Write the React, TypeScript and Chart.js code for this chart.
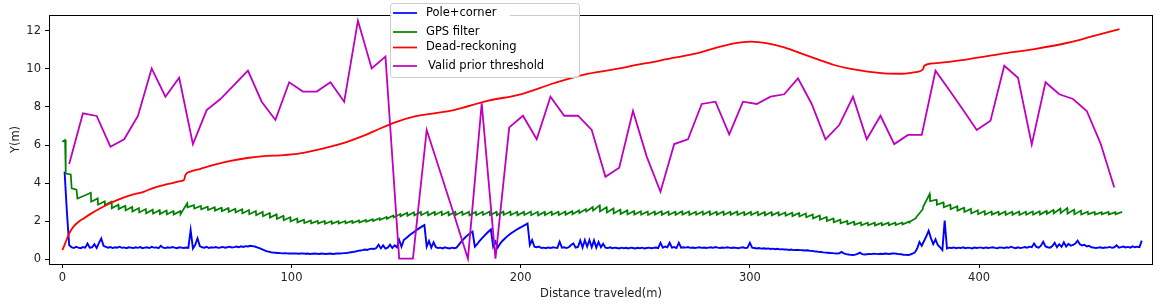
import React, { useEffect, useRef } from "react";
import { Chart, registerables } from "chart.js";

Chart.register(...registerables);

const FONT = "'DejaVu Sans', 'Liberation Sans', sans-serif";

const seriesNames = ["Pole+corner", "GPS filter", "Dead-reckoning", "Valid prior threshold"];
const seriesColors = ["#0000ff", "#008000", "#ff0000", "#bf00bf"];
const seriesWidths = [1.9, 1.7, 1.8, 1.8];

const xTicks = [0, 100, 200, 300, 400];
const yTicks = [0, 2, 4, 6, 8, 10, 12];
const xLabel = "Distance traveled(m)";
const yLabel = "Y(m)";
const xRange = [-5.8, 475.9];
const yRange = [-0.26, 12.84];

// Pole+corner: one sample per metre, first sample at x = poleStart
const poleStart = 1;
const poleCorner = [
  4.60, 2.50, 0.74, 0.62, 0.58, 0.64, 0.60, 0.57, 0.63, 0.60,
  0.82, 0.60, 0.62, 0.78, 0.58, 0.85, 1.08, 0.70, 0.64, 0.60,
  0.63, 0.58, 0.62, 0.60, 0.65, 0.59, 0.61, 0.57, 0.62, 0.60,
  0.58, 0.62, 0.59, 0.63, 0.57, 0.60, 0.62, 0.58, 0.64, 0.60,
  0.61, 0.57, 0.70, 0.60, 0.58, 0.62, 0.59, 0.63, 0.60, 0.57,
  0.62, 0.60, 0.58, 0.61, 0.59, 1.53, 0.56, 0.75, 1.09, 0.68,
  0.62, 0.60, 0.64, 0.58, 0.62, 0.60, 0.63, 0.59, 0.61, 0.64,
  0.60, 0.62, 0.65, 0.61, 0.63, 0.66, 0.62, 0.67, 0.64, 0.68,
  0.66, 0.70, 0.68, 0.66, 0.62, 0.57, 0.52, 0.47, 0.42, 0.39,
  0.36, 0.34, 0.33, 0.32, 0.31, 0.30, 0.31, 0.30, 0.29, 0.30,
  0.29, 0.30, 0.28, 0.29, 0.30, 0.28, 0.29, 0.27, 0.28, 0.29,
  0.28, 0.27, 0.29, 0.28, 0.27, 0.28, 0.29, 0.27, 0.28, 0.29,
  0.29, 0.30, 0.31, 0.32, 0.34, 0.36, 0.38, 0.40, 0.43, 0.45,
  0.47, 0.50, 0.48, 0.52, 0.55, 0.53, 0.58, 0.75, 0.56, 0.72,
  0.55, 0.60, 0.76, 0.58, 0.72, 0.62, 1.00, 0.65, 1.00, 1.10,
  1.20, 1.30, 1.39, 1.48, 1.56, 1.64, 1.72, 1.79, 0.65, 0.95,
  0.60, 0.88, 0.62, 0.58, 0.60, 0.56, 0.62, 0.58, 0.56, 0.60,
  0.57, 0.60, 0.75, 0.90, 1.04, 1.16, 1.27, 1.36, 1.44, 0.65,
  0.78, 0.94, 1.08, 1.21, 1.33, 1.45, 1.56, 0.65, 0.91, 0.60,
  0.80, 0.95, 1.07, 1.18, 1.28, 1.37, 1.45, 1.53, 1.60, 1.67,
  1.73, 1.80, 1.87, 0.74, 1.00, 0.65, 0.62, 0.66, 0.58, 0.60,
  0.57, 0.61, 0.58, 0.62, 0.60, 0.58, 0.91, 0.60, 0.62, 0.58,
  0.62, 0.74, 0.82, 0.60, 0.64, 0.98, 0.60, 1.00, 0.65, 1.00,
  0.62, 0.98, 0.60, 0.90, 0.62, 0.80, 0.60, 0.58, 0.62, 0.57,
  0.60, 0.58, 0.56, 0.60, 0.57, 0.59, 0.56, 0.60, 0.58, 0.56,
  0.59, 0.57, 0.60, 0.56, 0.58, 0.60, 0.57, 0.59, 0.61, 0.58,
  0.86, 0.60, 0.66, 0.62, 0.86, 0.60, 0.63, 0.58, 0.86, 0.60,
  0.62, 0.60, 0.63, 0.59, 0.61, 0.58, 0.60, 0.62, 0.59, 0.61,
  0.58, 0.60, 0.62, 0.59, 0.63, 0.60, 0.58, 0.61, 0.59, 0.62,
  0.60, 0.58, 0.61, 0.59, 0.57, 0.60, 0.62, 0.58, 0.60, 0.86,
  0.60, 0.58, 0.56, 0.58, 0.55, 0.57, 0.54, 0.56, 0.53, 0.55,
  0.52, 0.54, 0.51, 0.52, 0.50, 0.51, 0.48, 0.50, 0.47, 0.48,
  0.48, 0.47, 0.46, 0.45, 0.46, 0.44, 0.43, 0.41, 0.40, 0.38,
  0.37, 0.35, 0.34, 0.33, 0.32, 0.31, 0.30, 0.29, 0.30, 0.38,
  0.30, 0.26, 0.24, 0.22, 0.21, 0.23, 0.27, 0.34, 0.26, 0.24,
  0.25, 0.27, 0.26, 0.28, 0.27, 0.26, 0.28, 0.27, 0.29, 0.28,
  0.27, 0.29, 0.30, 0.28, 0.26, 0.25, 0.23, 0.22, 0.21, 0.24,
  0.28, 0.35, 0.55, 0.90, 0.70, 0.95, 1.20, 1.49, 1.10, 0.79,
  1.04, 0.74, 0.62, 0.47, 2.02, 0.56, 0.60, 0.58, 0.61, 0.57,
  0.60, 0.58, 0.62, 0.57, 0.60, 0.59, 0.56, 0.61, 0.58, 0.60,
  0.60, 0.57, 0.61, 0.58, 0.60, 0.62, 0.59, 0.57, 0.61, 0.60,
  0.58, 0.62, 0.59, 0.65, 0.60, 0.57, 0.62, 0.58, 0.60, 0.63,
  0.60, 0.65, 0.62, 0.82, 0.64, 0.60, 0.70, 0.91, 0.66, 0.62,
  0.60, 0.68, 0.85, 0.62, 0.78, 0.64, 0.88, 0.66, 0.80, 0.70,
  0.74, 0.82, 0.97, 0.78, 0.72, 0.75, 0.66, 0.70, 0.62, 0.60,
  0.58, 0.60, 0.62, 0.58, 0.61, 0.60, 0.64, 0.59, 0.62, 0.72,
  0.60, 0.63, 0.66, 0.61, 0.64, 0.60, 0.67, 0.62, 0.65, 0.63, 0.97,
];

// GPS filter: initial steps, then saw teeth (low, high) each gpsToothLen long
const gpsHeadX = [0, 1.2, 1.5, 3.7, 4.1, 6.2];
const gpsHeadY = [6.17, 6.26, 4.5, 4.45, 3.72, 3.65];
const gpsToothStart = 6.6;
const gpsToothLen = 3;
const gpsTeeth = [
  3.19, 3.33, 3.33, 3.49, 3.02, 3.19, 2.86, 3.04, 2.84, 3.02,
  2.67, 2.86, 2.63, 2.80, 2.56, 2.74, 2.50, 2.68, 2.45, 2.63,
  2.41, 2.60, 2.39, 2.57, 2.37, 2.55, 2.35, 2.53, 2.34, 2.52,
  2.36, 2.93, 2.72, 2.84, 2.66, 2.79, 2.62, 2.76, 2.58, 2.73,
  2.55, 2.70, 2.52, 2.68, 2.48, 2.65, 2.45, 2.62, 2.40, 2.58,
  2.36, 2.53, 2.31, 2.48, 2.25, 2.42, 2.18, 2.35, 2.11, 2.27,
  2.04, 2.20, 1.98, 2.13, 1.93, 2.07, 1.90, 2.03, 1.88, 2.01,
  1.87, 2.00, 1.86, 1.99, 1.86, 1.99, 1.87, 2.00, 1.88, 2.01,
  1.90, 2.03, 1.92, 2.06, 1.96, 2.10, 2.00, 2.15, 2.06, 2.22,
  2.12, 2.29, 2.19, 2.37, 2.25, 2.43, 2.28, 2.46, 2.30, 2.48,
  2.31, 2.49, 2.30, 2.48, 2.32, 2.50, 2.31, 2.49, 2.30, 2.48,
  2.31, 2.50, 2.32, 2.49, 2.30, 2.48, 2.31, 2.49, 2.32, 2.50,
  2.31, 2.48, 2.30, 2.49, 2.32, 2.50, 2.31, 2.49, 2.30, 2.48,
  2.32, 2.50, 2.31, 2.49, 2.30, 2.48, 2.31, 2.50, 2.32, 2.49,
  2.31, 2.50, 2.33, 2.52, 2.36, 2.56, 2.42, 2.63, 2.50, 2.74,
  2.55, 2.82, 2.50, 2.72, 2.45, 2.66, 2.40, 2.60, 2.37, 2.56,
  2.35, 2.53, 2.34, 2.51, 2.33, 2.50, 2.32, 2.50, 2.34, 2.51,
  2.33, 2.50, 2.32, 2.49, 2.33, 2.51, 2.34, 2.50, 2.32, 2.49,
  2.33, 2.50, 2.34, 2.51, 2.32, 2.49, 2.33, 2.50, 2.32, 2.49,
  2.33, 2.50, 2.32, 2.48, 2.31, 2.48, 2.32, 2.49, 2.31, 2.47,
  2.30, 2.47, 2.30, 2.46, 2.29, 2.45, 2.28, 2.44, 2.26, 2.42,
  2.24, 2.40, 2.20, 2.35, 2.14, 2.29, 2.07, 2.21, 2.00, 2.14,
  1.94, 2.07, 1.88, 2.01, 1.83, 1.96, 1.80, 1.93, 1.78, 1.91,
  1.78, 1.91, 1.77, 1.90, 1.78, 1.91, 1.78, 1.91, 1.79, 1.92,
  1.82, 1.97, 1.95, 2.15, 2.20, 2.62, 2.75, 3.42, 3.05, 3.12,
  2.85, 2.98, 2.72, 2.86, 2.62, 2.78, 2.55, 2.70, 2.48, 2.64,
  2.40, 2.57, 2.36, 2.53, 2.33, 2.50, 2.34, 2.49, 2.33, 2.50,
  2.32, 2.49, 2.33, 2.50, 2.32, 2.49, 2.33, 2.50, 2.34, 2.51,
  2.34, 2.53, 2.37, 2.58, 2.40, 2.65, 2.42, 2.68, 2.38, 2.60,
  2.35, 2.55, 2.34, 2.49, 2.35, 2.48, 2.34, 2.47, 2.35, 2.48,
  2.34, 2.47, 2.35, 2.48,
];

// Dead-reckoning
const deadX = [
  0, 1, 2, 3, 4, 5, 7, 9.3, 12, 16.6,
  20, 23.9, 27, 31.1, 35.5, 39.9, 44.2, 48, 51.5, 53.2,
  53.7, 55.9, 60.3, 66.1, 73.4, 81.4, 87.9, 95.2, 102.5, 109.7,
  117, 124.3, 131.6, 138.9, 146.2, 153.4, 160.7, 170.9, 185.5, 200,
  214.5, 229.1, 243.7, 250, 258.2, 263, 275.7, 285.9, 293.2, 300.4,
  307.7, 315, 322.3, 329.6, 336.8, 344.1, 351.4, 358.6, 365.9, 370.3,
  374.7, 375.6, 376.1, 380.5, 395.1, 409.6, 424.2, 438.7, 448.9, 461.3,
];
const deadY = [
  0.47, 0.75, 1.05, 1.35, 1.55, 1.72, 1.95, 2.14, 2.35, 2.67,
  2.88, 3.1, 3.25, 3.4, 3.54, 3.75, 3.89, 4.0, 4.1, 4.18,
  4.42, 4.6, 4.75, 4.95, 5.16, 5.33, 5.42, 5.46, 5.53, 5.7,
  5.91, 6.17, 6.49, 6.88, 7.23, 7.49, 7.64, 7.84, 8.32, 8.67,
  9.25, 9.74, 10.04, 10.2, 10.38, 10.5, 10.79, 11.14, 11.35, 11.44,
  11.35, 11.14, 10.82, 10.51, 10.21, 10.0, 9.86, 9.77, 9.75, 9.8,
  9.91, 10.0, 10.17, 10.3, 10.51, 10.79, 11.05, 11.38, 11.7, 12.1,
];

// Valid prior threshold: one value every priorStep metres from priorStart
const priorStart = 3;
const priorStep = 6;
const priorThreshold = [
  5.0, 7.67, 7.53, 5.91, 6.3, 7.53, 10.03, 8.54, 9.54, 6.05,
  7.84, 8.42, 9.16, 9.91, 8.28, 7.32, 9.3, 8.81, 8.81, 9.3,
  8.28, 12.54, 10.03, 10.65, 0.02, 0.02, 6.79, 4.55, 2.3, 0.02,
  8.19, 0.02, 6.93, 7.54, 6.3, 8.54, 7.54, 7.54, 6.79, 4.33,
  4.81, 7.79, 5.39, 3.54, 6.05, 6.3, 8.16, 8.28, 6.56, 8.28,
  8.16, 8.54, 8.67, 9.51, 8.16, 6.3, 7.05, 8.54, 6.3, 7.54,
  6.05, 6.53, 6.53, 9.91, 8.89, 7.85, 6.79, 7.28, 10.17, 9.54,
  6.03, 9.3, 8.67, 8.42, 7.79, 6.09, 3.77,
];

const legendRowsY = [13, 32, 47.5, 66];
const legendTextX = [426, 426, 426, 428];

const framePlugin = {
  id: "mplFrame",
  afterDatasetsDraw(chart: any) {
    const { ctx, chartArea: a } = chart;
    ctx.save();
    ctx.strokeStyle = "#000";
    ctx.lineWidth = 1;
    ctx.strokeRect(a.left + 0.5, a.top + 0.5, a.right - a.left - 1, a.bottom - a.top);
    ctx.restore();
  },
};

const legendPlugin = {
  id: "mplLegend",
  afterDraw(chart: any) {
    const ctx = chart.ctx;
    ctx.save();
    ctx.beginPath();
    ctx.roundRect(390.5, 3.5, 189, 74, 3);
    ctx.fillStyle = "rgba(255,255,255,0.8)";
    ctx.fill();
    ctx.strokeStyle = "#cccccc";
    ctx.lineWidth = 1;
    ctx.stroke();
    ctx.fillStyle = "#ffffff";
    ctx.fillRect(392, 5, 118, 12);
    ctx.font = `11.5px ${FONT}`;
    ctx.textBaseline = "middle";
    ctx.textAlign = "left";
    seriesNames.forEach((name, i) => {
      const y = legendRowsY[i];
      ctx.strokeStyle = seriesColors[i];
      ctx.lineWidth = 1.7;
      ctx.beginPath();
      ctx.moveTo(393, y);
      ctx.lineTo(417, y);
      ctx.stroke();
      ctx.fillStyle = "#000";
      ctx.fillText(name, legendTextX[i], y);
    });
    ctx.restore();
  },
};

export default function App() {
  const ref = useRef<HTMLCanvasElement>(null);

  useEffect(() => {
    const canvas = ref.current;
    if (!canvas) return;

    const pole = poleCorner.map((y, i) => ({ x: poleStart + i, y }));
    const gps: { x: number; y: number }[] = gpsHeadX.map((x, i) => ({ x, y: gpsHeadY[i] }));
    for (let i = 0; i < gpsTeeth.length / 2; i++) {
      const x0 = gpsToothStart + i * gpsToothLen;
      gps.push({ x: x0, y: gpsTeeth[2 * i] });
      gps.push({ x: x0 + gpsToothLen * 0.95, y: gpsTeeth[2 * i + 1] });
    }
    const dead = deadX.map((x, i) => ({ x, y: deadY[i] }));
    const prior = priorThreshold.map((y, i) => ({ x: priorStart + i * priorStep, y }));

    const dataSets = [pole, gps, dead, prior];

    const tickFont = { family: FONT, size: 11.5 };

    const chart = new Chart(canvas, {
      type: "line",
      data: {
        datasets: dataSets.map((d, i) => ({
          label: seriesNames[i],
          data: d,
          borderColor: seriesColors[i],
          backgroundColor: seriesColors[i],
          borderWidth: seriesWidths[i],
          pointRadius: 0,
          tension: 0,
          fill: false,
          order: 4 - i,
          cubicInterpolationMode: i === 2 ? "monotone" : "default",
        })) as any,
      },
      options: {
        animation: false,
        responsive: false,
        maintainAspectRatio: false,
        layout: { padding: { left: 0, right: 14, top: 15, bottom: 0 } },
        plugins: {
          legend: { display: false },
          tooltip: { enabled: false },
          title: { display: false },
        },
        scales: {
          x: {
            type: "linear",
            min: xRange[0],
            max: xRange[1],
            afterBuildTicks: (s: any) => {
              s.ticks = xTicks.map((v) => ({ value: v }));
            },
            afterFit: (s: any) => {
              s.height = 44;
            },
            ticks: { font: tickFont, color: "#222", padding: 3, maxRotation: 0, autoSkip: false },
            grid: { drawOnChartArea: false, drawTicks: true, tickLength: 4, color: "#000", lineWidth: 1 },
            border: { display: false },
            title: {
              display: true,
              text: xLabel,
              font: tickFont,
              color: "#222",
              padding: { top: 0, bottom: 6.6 },
            },
          },
          y: {
            type: "linear",
            min: yRange[0],
            max: yRange[1],
            afterBuildTicks: (s: any) => {
              s.ticks = yTicks.map((v) => ({ value: v }));
            },
            afterFit: (s: any) => {
              s.width = 49;
            },
            ticks: { font: tickFont, color: "#222", padding: 4 },
            grid: { drawOnChartArea: false, drawTicks: true, tickLength: 4, color: "#000", lineWidth: 1 },
            border: { display: false },
            title: {
              display: true,
              text: yLabel,
              font: tickFont,
              color: "#222",
              padding: { top: 9, bottom: 0 },
            },
          },
        },
      },
      plugins: [framePlugin, legendPlugin],
    });

    return () => chart.destroy();
  }, []);

  return (
    <div style={{ position: "fixed", left: 0, top: 0, width: 1167, height: 308, background: "#fff" }}>
      <canvas ref={ref} width={1167} height={308} style={{ display: "block", width: 1167, height: 308 }} />
    </div>
  );
}
